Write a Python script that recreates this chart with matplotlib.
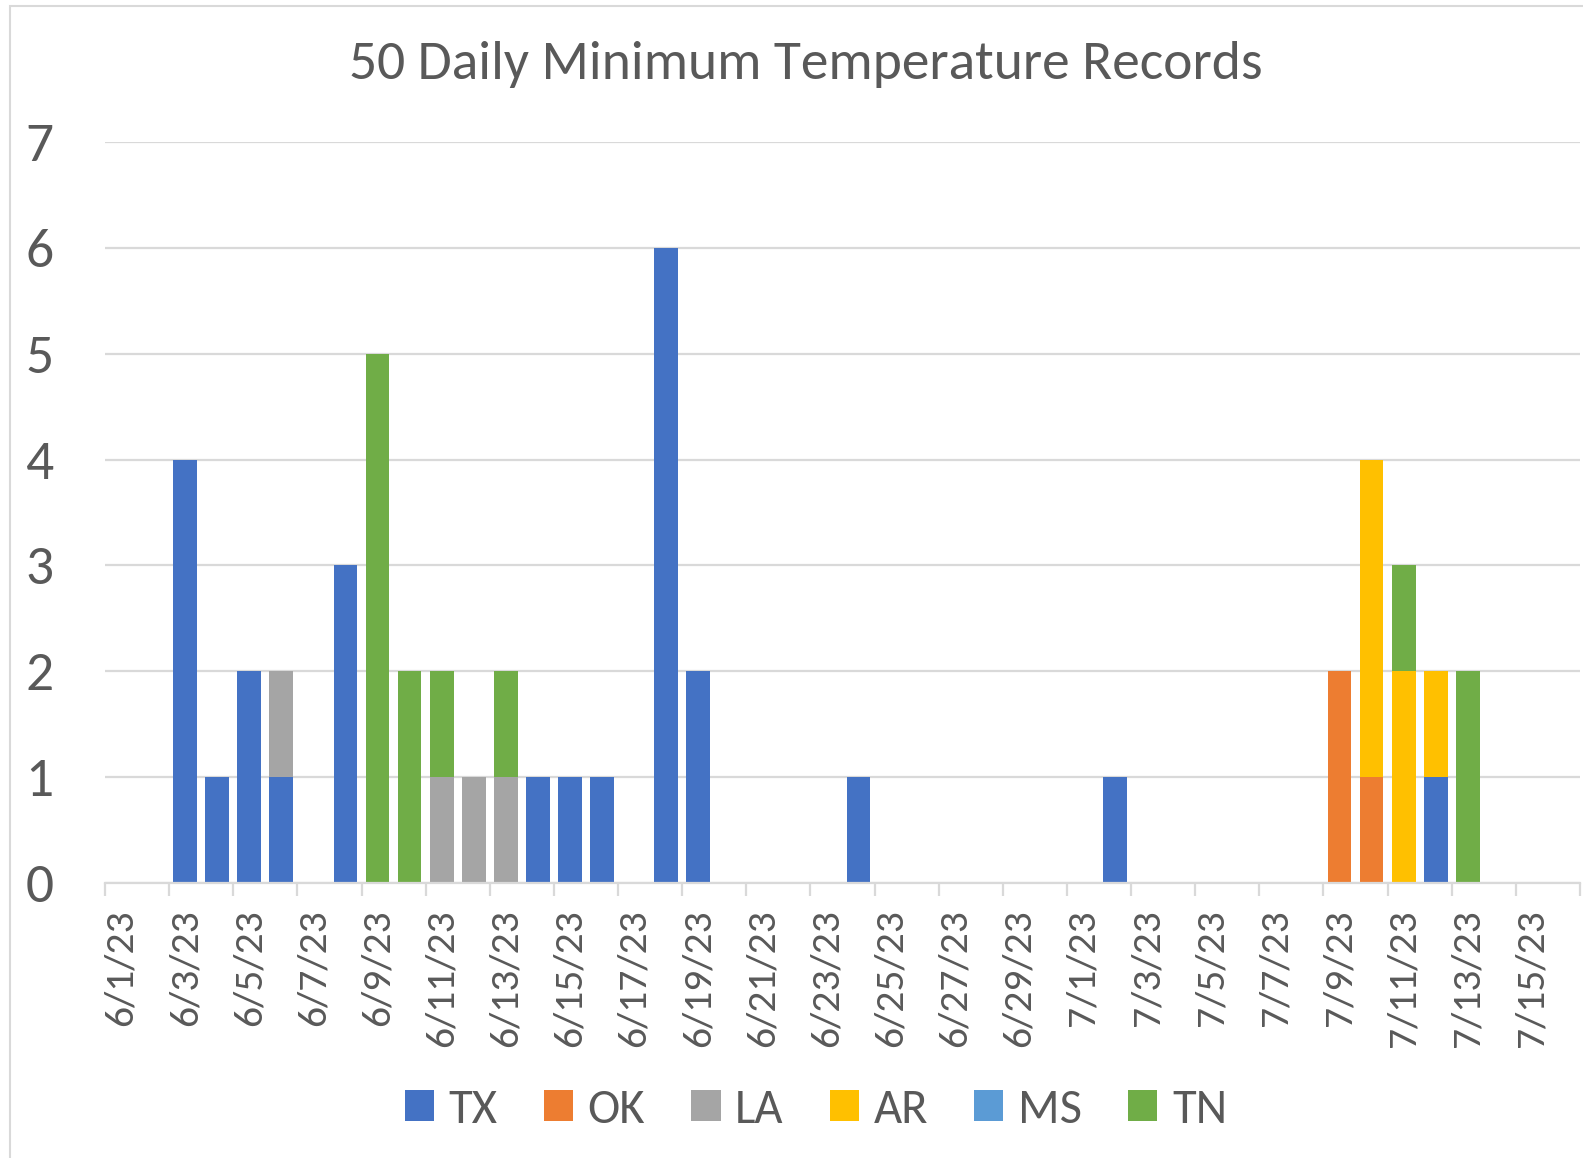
import matplotlib
matplotlib.use("Agg")
import matplotlib.pyplot as plt
from matplotlib.patches import Patch, Rectangle
import numpy as np
import pandas as pd

plt.rcParams['font.family'] = ['Carlito', 'Lato', 'DejaVu Sans']

# Categories: one per day, 6/1/23 .. 7/16/23
dates = pd.date_range("2023-06-01", "2023-07-16", freq="D")
date_labels = [f"{d.month}/{d.day}/23" for d in dates]

states = ["TX", "OK", "LA", "AR", "MS", "TN"]
colors = ["#4472C4", "#ED7D31", "#A5A5A5", "#FFC000", "#5B9BD5", "#70AD47"]

#        6/1 ...                                                   6/30 | 7/1 ...                  7/16
TX = [0, 0, 4, 1, 2, 1, 0, 3, 0, 0, 0, 0, 0, 1, 1, 1, 0, 6, 2, 0, 0, 0, 0, 1, 0, 0, 0, 0, 0, 0,
      0, 1, 0, 0, 0, 0, 0, 0, 0, 0, 0, 1, 0, 0, 0, 0]
OK = [0, 0, 0, 0, 0, 0, 0, 0, 0, 0, 0, 0, 0, 0, 0, 0, 0, 0, 0, 0, 0, 0, 0, 0, 0, 0, 0, 0, 0, 0,
      0, 0, 0, 0, 0, 0, 0, 0, 2, 1, 0, 0, 0, 0, 0, 0]
LA = [0, 0, 0, 0, 0, 1, 0, 0, 0, 0, 1, 1, 1, 0, 0, 0, 0, 0, 0, 0, 0, 0, 0, 0, 0, 0, 0, 0, 0, 0,
      0, 0, 0, 0, 0, 0, 0, 0, 0, 0, 0, 0, 0, 0, 0, 0]
AR = [0, 0, 0, 0, 0, 0, 0, 0, 0, 0, 0, 0, 0, 0, 0, 0, 0, 0, 0, 0, 0, 0, 0, 0, 0, 0, 0, 0, 0, 0,
      0, 0, 0, 0, 0, 0, 0, 0, 0, 3, 2, 1, 0, 0, 0, 0]
MS = [0] * 46
TN = [0, 0, 0, 0, 0, 0, 0, 0, 5, 2, 1, 0, 1, 0, 0, 0, 0, 0, 0, 0, 0, 0, 0, 0, 0, 0, 0, 0, 0, 0,
      0, 0, 0, 0, 0, 0, 0, 0, 0, 0, 1, 0, 2, 0, 0, 0]
series = [TX, OK, LA, AR, MS, TN]

title = "50 Daily Minimum Temperature Records"
yticks = [0, 1, 2, 3, 4, 5, 6, 7]

W, H = 1583, 1158
fig = plt.figure(figsize=(W / 100, H / 100), dpi=100)
fig.patch.set_facecolor("white")

# chart-area border
fig.patches.append(Rectangle((10 / W, -0.05), 1.2, 1 - 6 / H + 0.05, transform=fig.transFigure,
                             fill=False, edgecolor="#D9D9D9", linewidth=1.5, zorder=0))

left, right = 105 / W, 1580 / W
bottom, top = 1 - 883 / H, 1 - 142 / H
ax = fig.add_axes([left, bottom, right - left, top - bottom])

x = np.arange(len(dates))
base = np.zeros(len(dates))
for name, vals, c in zip(states, series, colors):
    v = np.array(vals, dtype=float)
    ax.bar(x, v, bottom=base, width=0.74, color=c, linewidth=0, zorder=3)
    base += v

ax.set_xlim(-0.5, len(dates) - 0.5)
ax.set_ylim(0, 7)

ax.set_yticks(yticks)
ax.set_yticklabels([str(t) for t in yticks])
ax.yaxis.grid(True, color="#D9D9D9", linewidth=1.6, zorder=0)
ax.set_axisbelow(True)

major = x[::2]
ax.set_xticks(major)
ax.set_xticklabels([date_labels[i] for i in major], rotation=90, ha="center", va="top")
ax.set_xticks(np.arange(-0.5, len(dates), 2), minor=True)
ax.tick_params(axis="x", which="major", length=0, pad=19, labelsize=30, labelcolor="#595959")
ax.tick_params(axis="x", which="minor", length=9, width=1.6, color="#D9D9D9", direction="out")
ax.tick_params(axis="y", length=0, pad=37, labelsize=40, labelcolor="#595959")

for s in ["top", "right", "left"]:
    ax.spines[s].set_visible(False)
ax.spines["bottom"].set_color("#D9D9D9")
ax.spines["bottom"].set_linewidth(1.6)
ax.spines["bottom"].set_zorder(4)

fig.text(806 / W, 1 - 64 / H, title, ha="center", va="center", fontsize=40, color="#595959")

handles = [Patch(facecolor=c, edgecolor="none") for c in colors]
fig.legend(handles, states, loc="center", bbox_to_anchor=(816 / W, 1 - 1110 / H), ncol=6,
           frameon=False, fontsize=35, labelcolor="#595959", handlelength=0.6, handleheight=0.6,
           handletextpad=0.3, columnspacing=0.95)

fig.savefig("out.png", dpi=100, facecolor="white")
